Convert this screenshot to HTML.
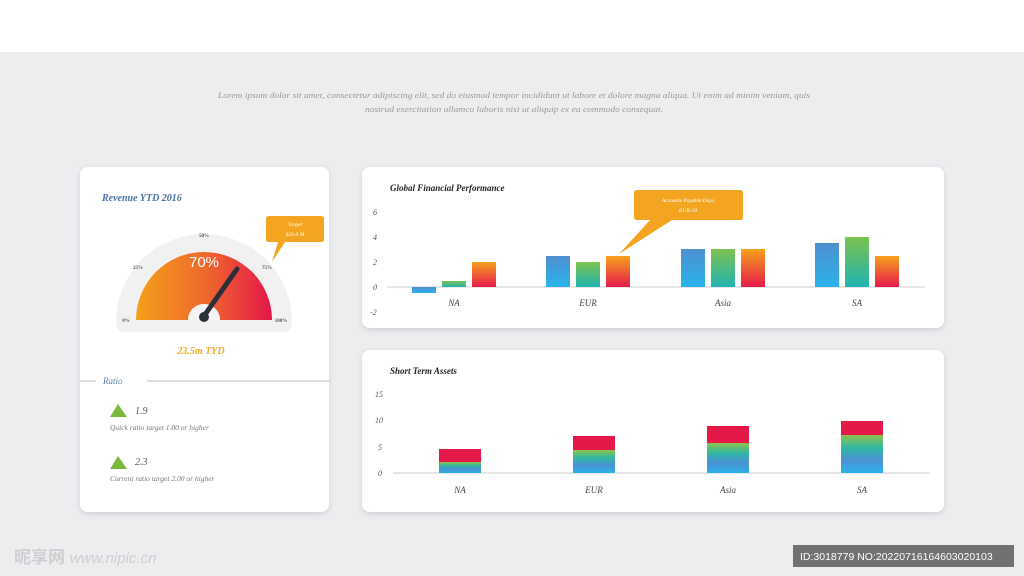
<!DOCTYPE html>
<html><head><style>
body{margin:0;width:1024px;height:576px;background:#ededf0;font-family:"Liberation Serif",serif;overflow:hidden}
</style></head><body>
<svg width="1024" height="576" xmlns="http://www.w3.org/2000/svg" style="position:absolute;left:0;top:0">
<defs>
<linearGradient id="gauge" x1="0" x2="1" y1="0" y2="0"><stop offset="0" stop-color="#f5a01a"/><stop offset="0.5" stop-color="#ee6a2c"/><stop offset="1" stop-color="#e4174a"/></linearGradient>
<linearGradient id="bl" x1="0" x2="0" y1="0" y2="1"><stop offset="0" stop-color="#4f8fd0"/><stop offset="1" stop-color="#29b3ea"/></linearGradient>
<linearGradient id="gr" x1="0" x2="0" y1="0" y2="1"><stop offset="0" stop-color="#7dc24f"/><stop offset="1" stop-color="#20b4b0"/></linearGradient>
<linearGradient id="or" x1="0" x2="0" y1="0" y2="1"><stop offset="0" stop-color="#f6a21c"/><stop offset="1" stop-color="#e51a4b"/></linearGradient>
<linearGradient id="st" x1="0" x2="0" y1="0" y2="1"><stop offset="0" stop-color="#8cc34a"/><stop offset="0.35" stop-color="#2fb7a6"/><stop offset="0.65" stop-color="#4b92d2"/><stop offset="1" stop-color="#2bb1e8"/></linearGradient>
<filter id="sh" x="-5%" y="-5%" width="110%" height="120%"><feDropShadow dx="0" dy="2" stdDeviation="3" flood-color="#000" flood-opacity="0.12"/></filter>
</defs>
<rect x="0" y="0" width="1024" height="52" fill="#fff"/>
<g font-style="italic" font-size="8.5" fill="#9a9a9a" text-anchor="middle">
<text x="514" y="98" textLength="592" lengthAdjust="spacingAndGlyphs">Lorem ipsum dolor sit amet, consectetur adipiscing elit, sed do eiusmod tempor incididunt ut labore et dolore magna aliqua. Ut enim ad minim veniam, quis</text>
<text x="514" y="112" textLength="298" lengthAdjust="spacingAndGlyphs">nostrud exercitation ullamco laboris nisi ut aliquip ex ea commodo consequat.</text>
</g>
<rect x="80" y="167" width="249" height="345" rx="8" fill="#fff" filter="url(#sh)"/>
<rect x="362" y="167" width="582" height="161" rx="8" fill="#fff" filter="url(#sh)"/>
<rect x="362" y="350" width="582" height="162" rx="8" fill="#fff" filter="url(#sh)"/>

<text x="102" y="201" font-size="10" font-style="italic" font-weight="bold" fill="#4a73a0">Revenue YTD 2016</text>
<path d="M116 322 A88 88 0 0 1 292 322 Q292 332 282 332 H126 Q116 332 116 322 Z" fill="#f1f1f1"/>
<path d="M136 320 A68 68 0 0 1 272 320 L220 320 A16 16 0 0 0 188 320 Z" fill="url(#gauge)"/>
<path d="M188 320 A16 16 0 0 1 220 320 Z" fill="#f4f4f4"/>
<text x="204" y="267" font-family="Liberation Sans" font-size="15" fill="#fff" text-anchor="middle">70%</text>
<line x1="204" y1="316" x2="237" y2="269" stroke="#2b2f3a" stroke-width="5" stroke-linecap="round"/>
<circle cx="204" cy="317" r="5" fill="#2b2f3a"/>
<g font-size="5" fill="#555" font-weight="bold" text-anchor="middle">
<text x="126" y="322">0%</text><text x="138" y="269">25%</text><text x="204" y="237">50%</text><text x="267" y="269">75%</text><text x="281" y="322">100%</text>
</g>
<path d="M269 216 H321 Q324 216 324 219 V239 Q324 242 321 242 H285 L272 262 L278 242 H269 Q266 242 266 239 V219 Q266 216 269 216Z" fill="#f3a521"/>
<text x="295" y="226" font-size="5.5" font-style="italic" fill="#fff" text-anchor="middle">Target</text>
<text x="295" y="236" font-size="5.5" font-style="italic" fill="#fff" text-anchor="middle">$20.0 M</text>
<text x="201" y="354" font-size="10" font-style="italic" font-weight="bold" fill="#f0a826" text-anchor="middle">23.5m TYD</text>
<line x1="80" y1="381" x2="96" y2="381" stroke="#bbb"/>
<line x1="147" y1="381" x2="329" y2="381" stroke="#bbb"/>
<text x="103" y="384" font-size="9" font-style="italic" fill="#5a7fa8">Ratio</text>
<path d="M110 417 L118 404 L127 417Z" fill="#7ab83e"/>
<text x="135" y="414" font-size="10" font-style="italic" fill="#555">1.9</text>
<text x="110" y="430" font-size="7.5" font-style="italic" fill="#777">Quick ratio target 1.00 or higher</text>
<path d="M110 469 L118 456 L127 469Z" fill="#7ab83e"/>
<text x="135" y="465" font-size="10" font-style="italic" fill="#555">2.3</text>
<text x="110" y="481" font-size="7.5" font-style="italic" fill="#777">Current ratio target 2.00 or higher</text>

<text x="390" y="191" font-size="9" font-style="italic" font-weight="bold" fill="#222">Global Financial Performance</text>
<g font-size="8" font-style="italic" fill="#555">
<text x="373" y="215">6</text><text x="373" y="240">4</text><text x="373" y="265">2</text><text x="373" y="290">0</text><text x="370" y="315">-2</text>
</g>
<line x1="387" y1="287" x2="925" y2="287" stroke="#ccc"/>
<rect x="412" y="287" width="24" height="6" fill="url(#bl)"/>
<rect x="442" y="281" width="24" height="6" fill="url(#gr)"/>
<rect x="472" y="262" width="24" height="25" fill="url(#or)"/>
<rect x="546" y="256" width="24" height="31" fill="url(#bl)"/>
<rect x="576" y="262" width="24" height="25" fill="url(#gr)"/>
<rect x="606" y="256" width="24" height="31" fill="url(#or)"/>
<rect x="681" y="249" width="24" height="38" fill="url(#bl)"/>
<rect x="711" y="249" width="24" height="38" fill="url(#gr)"/>
<rect x="741" y="249" width="24" height="38" fill="url(#or)"/>
<rect x="815" y="243" width="24" height="44" fill="url(#bl)"/>
<rect x="845" y="237" width="24" height="50" fill="url(#gr)"/>
<rect x="875" y="256" width="24" height="31" fill="url(#or)"/>
<g font-size="9" font-style="italic" fill="#444" text-anchor="middle">
<text x="454" y="306">NA</text><text x="588" y="306">EUR</text><text x="723" y="306">Asia</text><text x="857" y="306">SA</text>
</g>
<path d="M637 190 H740 Q743 190 743 193 V217 Q743 220 740 220 H672 L619 254 L650 220 H637 Q634 220 634 217 V193 Q634 190 637 190Z" fill="#f3a521"/>
<text x="688" y="202" font-size="5.5" font-style="italic" fill="#fff" text-anchor="middle">Accounts Payable Days</text>
<text x="688" y="212" font-size="5.5" font-style="italic" fill="#fff" text-anchor="middle">EUR:18</text>

<text x="390" y="374" font-size="9" font-style="italic" font-weight="bold" fill="#222">Short Term Assets</text>
<g font-size="8" font-style="italic" fill="#555">
<text x="375" y="397">15</text><text x="375" y="423">10</text><text x="378" y="450">5</text><text x="378" y="476">0</text>
</g>
<line x1="393" y1="473" x2="930" y2="473" stroke="#ccc"/>
<rect x="439" y="462" width="42" height="11" fill="url(#st)"/><rect x="439" y="449" width="42" height="13" fill="#e4194a"/>
<rect x="573" y="450" width="42" height="23" fill="url(#st)"/><rect x="573" y="436" width="42" height="14" fill="#e4194a"/>
<rect x="707" y="443" width="42" height="30" fill="url(#st)"/><rect x="707" y="426" width="42" height="17" fill="#e4194a"/>
<rect x="841" y="435" width="42" height="38" fill="url(#st)"/><rect x="841" y="421" width="42" height="14" fill="#e4194a"/>
<g font-size="9" font-style="italic" fill="#444" text-anchor="middle">
<text x="460" y="493">NA</text><text x="594" y="493">EUR</text><text x="728" y="493">Asia</text><text x="862" y="493">SA</text>
</g>
<text x="14" y="563" font-family="Liberation Sans, Noto Sans CJK SC, sans-serif" font-size="17" font-weight="bold" fill="#cfcfd2">昵享网 <tspan font-size="15" font-style="italic" font-weight="normal">www.nipic.cn</tspan></text>
<rect x="793" y="545" width="221" height="22" fill="#5a5a5e" opacity="0.85"/>
<text x="800" y="560" font-family="Liberation Sans, sans-serif" font-size="10.5" fill="#fff">ID:3018779 NO:20220716164603020103</text>
</svg>
</body></html>
